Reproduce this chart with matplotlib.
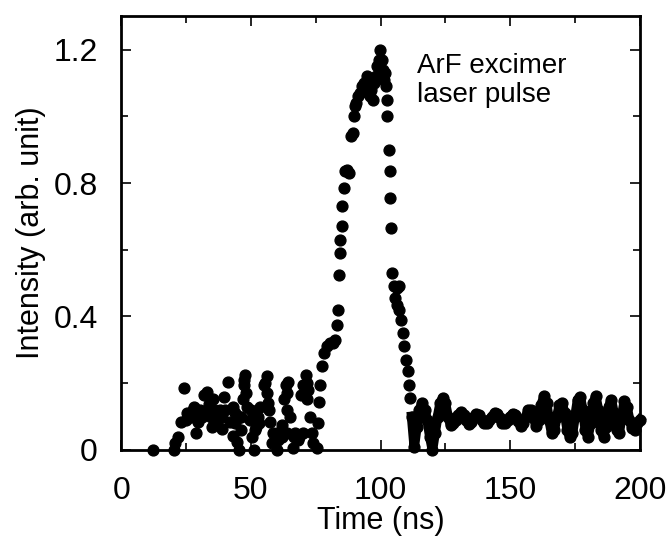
import numpy as np
import matplotlib
matplotlib.use('Agg')
from matplotlib import pyplot as plt
from matplotlib.ticker import MultipleLocator

# Time (ns) and intensity (arb. unit)
# noisy part before the pulse
t_pre = [12.4, 20.3, 20.6, 21.9, 23.1, 24.3, 25.2, 26.9, 28.1, 28.9, 29.7, 30.5,
         31.8, 33.0, 33.8, 34.7, 35.5, 36.3, 37.1, 38.0, 38.8, 39.6, 41.3, 42.1,
         42.9, 43.7, 44.6, 45.4, 45.6, 46.2, 47.0, 47.5, 47.9, 48.3, 49.5, 50.3,
         51.2, 52.0, 52.8, 53.6, 55.0, 56.1, 56.6, 57.3, 58.6, 59.9, 60.6, 61.9,
         62.7, 63.5, 64.4, 65.2, 66.2, 66.8, 68.5, 69.3, 70.1, 71.1, 71.8, 72.6,
         73.4, 75.4, 75.9, 76.4, 76.7,
         27.5, 31.0, 33.0, 36.0, 40.0, 44.0, 46.0, 50.0, 53.0, 57.0, 60.0, 62.0,
         64.0, 67.0, 70.0, 47.2, 55.5, 63.8, 71.5, 48.0, 56.3, 64.0, 72.0, 25.0,
         30.0, 35.0, 39.0, 43.0, 51.5, 58.0, 68.0, 74.0]
i_pre = [0.0, 0.0, 0.02, 0.04, 0.085, 0.185, 0.11, 0.10, 0.13, 0.05, 0.085, 0.12,
         0.163, 0.173, 0.137, 0.10, 0.152, 0.12, 0.08, 0.12, 0.064, 0.157, 0.204, 0.085,
         0.043, 0.08, 0.023, 0.0, 0.10, 0.06, 0.152, 0.194, 0.225, 0.13, 0.09, 0.038,
         0.0, 0.07, 0.10, 0.13, 0.194, 0.22, 0.14, 0.085, 0.05, 0.0, 0.03, 0.075,
         0.152, 0.194, 0.204, 0.10, 0.007, 0.038, 0.038, 0.163, 0.194, 0.225, 0.152, 0.10,
         0.05, 0.007, 0.08, 0.142, 0.194,
         0.12, 0.10, 0.12, 0.11, 0.12, 0.11, 0.10, 0.12, 0.08, 0.12, 0.05, 0.04,
         0.05, 0.05, 0.05, 0.21, 0.20, 0.17, 0.20, 0.17, 0.17, 0.12, 0.18, 0.09,
         0.11, 0.07, 0.10, 0.13, 0.06, 0.02, 0.03, 0.02]

# the laser pulse itself
t_pulse = [77.3, 78.2, 79.3, 80.5, 81.5, 82.5, 83.2, 83.4, 83.8, 84.2, 84.5, 85.0,
           85.1, 85.8, 86.3, 87.0, 88.0, 88.7, 89.2, 89.6, 90.0, 90.6, 91.4, 92.2,
           93.0, 93.8, 94.6, 95.2, 95.8, 96.5, 97.2, 97.6, 98.2, 98.8, 99.4, 99.9,
           100.4, 100.8, 101.2, 101.8, 102.2, 102.3, 102.6, 103.1, 103.5, 103.7, 104.0, 104.5,
           105.3, 106.2, 107.0, 105.5, 106.3, 107.3, 108.0, 108.6, 109.2, 109.8, 110.4, 110.9,
           111.4]
i_pulse = [0.25, 0.29, 0.31, 0.32, 0.32, 0.33, 0.375, 0.42, 0.525, 0.59, 0.63, 0.67,
           0.73, 0.785, 0.835, 0.84, 0.83, 0.94, 0.95, 1.0, 1.03, 1.04, 1.06, 1.07,
           1.09, 1.10, 1.12, 1.09, 1.06, 1.08, 1.05, 1.10, 1.12, 1.15, 1.17, 1.2,
           1.17, 1.14, 1.11, 1.13, 1.09, 1.05, 1.0, 0.9, 0.835, 0.755, 0.665, 0.53,
           0.49, 0.485, 0.49, 0.455, 0.435, 0.42, 0.39, 0.35, 0.31, 0.27, 0.235, 0.195,
           0.155]

# ringing after the pulse
t_tail = list(range(112, 201))
i_tail = [0.10, 0.01, 0.07, 0.12, 0.14, 0.12, 0.09, 0.04, 0.00, 0.05,
          0.10, 0.14, 0.155, 0.14, 0.10, 0.075, 0.08, 0.09, 0.105, 0.113,
          0.105, 0.09, 0.078, 0.085, 0.10, 0.108, 0.105, 0.09, 0.08, 0.08,
          0.09, 0.10, 0.11, 0.108, 0.095, 0.082, 0.08, 0.09, 0.10, 0.108,
          0.105, 0.088, 0.073, 0.08, 0.10, 0.12, 0.12, 0.095, 0.073, 0.09,
          0.135, 0.16, 0.14, 0.09, 0.05, 0.06, 0.10, 0.135, 0.14, 0.11,
          0.06, 0.038, 0.05, 0.10, 0.15, 0.158, 0.12, 0.06, 0.04, 0.08,
          0.14, 0.16, 0.12, 0.06, 0.04, 0.07, 0.13, 0.15, 0.11, 0.06,
          0.05, 0.10, 0.145, 0.13, 0.09, 0.065, 0.06, 0.08, 0.09]

plt.rcParams['font.family'] = ['Liberation Sans', 'DejaVu Sans']

fig = plt.figure(figsize=(6.7, 5.42), dpi=100)
ax = fig.add_axes([0.181, 0.170, 0.774, 0.800])

ms = 7.8
ax.plot(t_pre, i_pre, 'o', color='black', ms=ms, mec='black', clip_on=False)
ax.plot(t_pulse, i_pulse, 'o', color='black', ms=ms, mec='black', clip_on=False)
# dense sampling in the tail merges into a thick band
ax.plot(t_tail, i_tail, 'o-', color='black', ms=ms, lw=7, clip_on=False)

ax.set_xlim(0, 200)
ax.set_ylim(0, 1.3)
ax.set_xticks([0, 50, 100, 150, 200])
ax.set_yticks([0, 0.4, 0.8, 1.2])
ax.set_yticklabels(['0', '0.4', '0.8', '1.2'])
ax.xaxis.set_minor_locator(MultipleLocator(25))
ax.yaxis.set_minor_locator(MultipleLocator(0.2))
ax.tick_params(which='both', direction='in', top=True, right=True,
               width=1.2, labelsize=23)
ax.tick_params(axis='x', which='major', length=7, pad=19)
ax.tick_params(axis='y', which='major', length=7, pad=17)
ax.tick_params(which='minor', length=5)
for s in ax.spines.values():
    s.set_linewidth(2)

ax.set_xlabel('Time (ns)', fontsize=22, labelpad=0)
ax.set_ylabel('Intensity (arb. unit)', fontsize=22, labelpad=5)
ax.text(114, 1.19, 'ArF excimer\nlaser pulse', fontsize=20, va='top', ha='left',
        linespacing=1.15)

plt.savefig('out.png', dpi=100)
